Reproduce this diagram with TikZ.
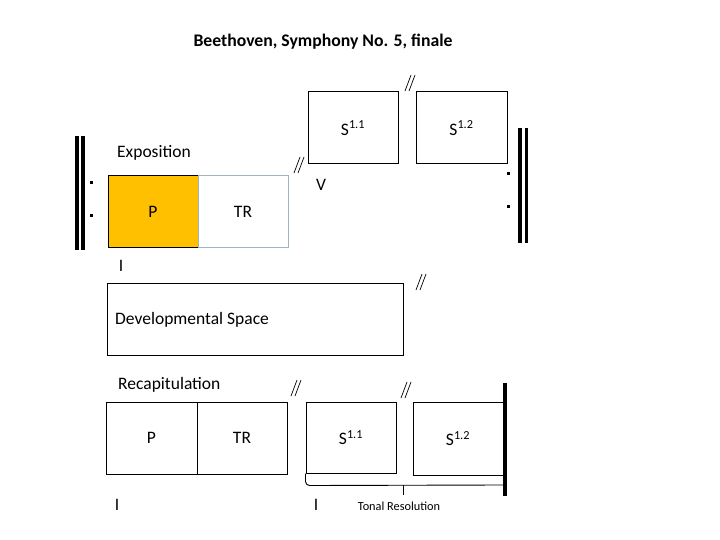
\documentclass[tikz,border=0pt]{standalone}
\usepackage{fontspec}
\setmainfont{Carlito}
\begin{document}
\begin{tikzpicture}[x=1pt,y=-1pt,
  box/.style={draw,line width=1pt,minimum width=90pt,minimum height=72pt,inner sep=0pt,font=\fontsize{17.5}{20}\selectfont},
  lbl/.style={inner sep=0pt,font=\fontsize{17.5}{20}\selectfont,anchor=west},
  roman/.style={inner sep=0pt,font=\fontsize{17.5}{20}\selectfont},
  bar/.style={fill=black,draw=none},
  dotmark/.style={fill=black,draw=none,minimum size=3pt,inner sep=0pt},
  slashes/.pic={\draw[line width=0.7pt] (-5,8)--(1,-8) (-1,8)--(5,-8);}
]
\useasboundingbox (0,0) rectangle (720,540);
\fill[white] (0,0) rectangle (720,540);

% title
\node[inner sep=0pt,font=\fontsize{17.7}{20}\selectfont\bfseries] (title) at (323,42) {Beethoven, Symphony No. 5, finale};

% exposition
\node[lbl] (explbl) at (117,153) {Exposition};
\node[box,fill={rgb,255:red,255;green,192;blue,0}] (ep) at (153,211.5) {P};
\node[box,draw={rgb,255:red,160;green,180;blue,190}] (etr) at (243,211.5) {TR};
\node[box] (es11) at (353,128) {S\textsuperscript{1.1}};
\node[box,minimum width=91pt] (es12) at (461.5,128) {S\textsuperscript{1.2}};
\node[roman] (eI) at (121,266) {I};
\node[roman] (eV) at (321,185) {V};

% repeat signs
\fill[bar] (74.5,136) rectangle (78.5,250);
\fill[bar] (81,136) rectangle (84.5,250);
\node[dotmark] (d1) at (91,183) {};
\node[dotmark] (d2) at (91,216) {};
\fill[bar] (518,128) rectangle (522,243);
\fill[bar] (524.5,128) rectangle (528,243);
\node[dotmark] (d3) at (508,174) {};
\node[dotmark] (d4) at (508,207) {};

% development
\node[box,minimum width=296pt] (dev) at (255,319) {};
\node[lbl] (devlbl) at (115,320) {Developmental Space};

% recapitulation
\node[lbl] (reclbl) at (118,385) {Recapitulation};
\node[box,minimum width=91pt] (rp) at (151.5,438) {P};
\node[box] (rtr) at (242,438) {TR};
\node[box,minimum height=71pt] (rs11) at (351,437.5) {S\textsuperscript{1.1}};
\node[box,minimum height=73pt] (rs12) at (458,438.5) {S\textsuperscript{1.2}};
\node[roman] (rI1) at (117,505) {I};
\node[roman] (rI2) at (316,505) {I};
\fill[bar] (503,383) rectangle (507,496);

% bracket
\coordinate (bl) at (rs11.south west);
\coordinate (bm) at (403,485);
\coordinate (br) at (503,485);
\draw[line width=0.9pt] (bl) -- ++(0,8) to[out=-90,in=180] ++(4,4) -- (br);
\draw[line width=0.9pt] (bm) -- ++(0,10);
\node[inner sep=0pt,font=\fontsize{12.3}{14}\selectfont] (tonal) at (399,506) {Tonal Resolution};

% break marks
\pic at (299,165) {slashes};
\pic at (410,83) {slashes};
\pic at (421,282) {slashes};
\pic at (296,388) {slashes};
\pic at (406,390) {slashes};
\end{tikzpicture}
\end{document}
